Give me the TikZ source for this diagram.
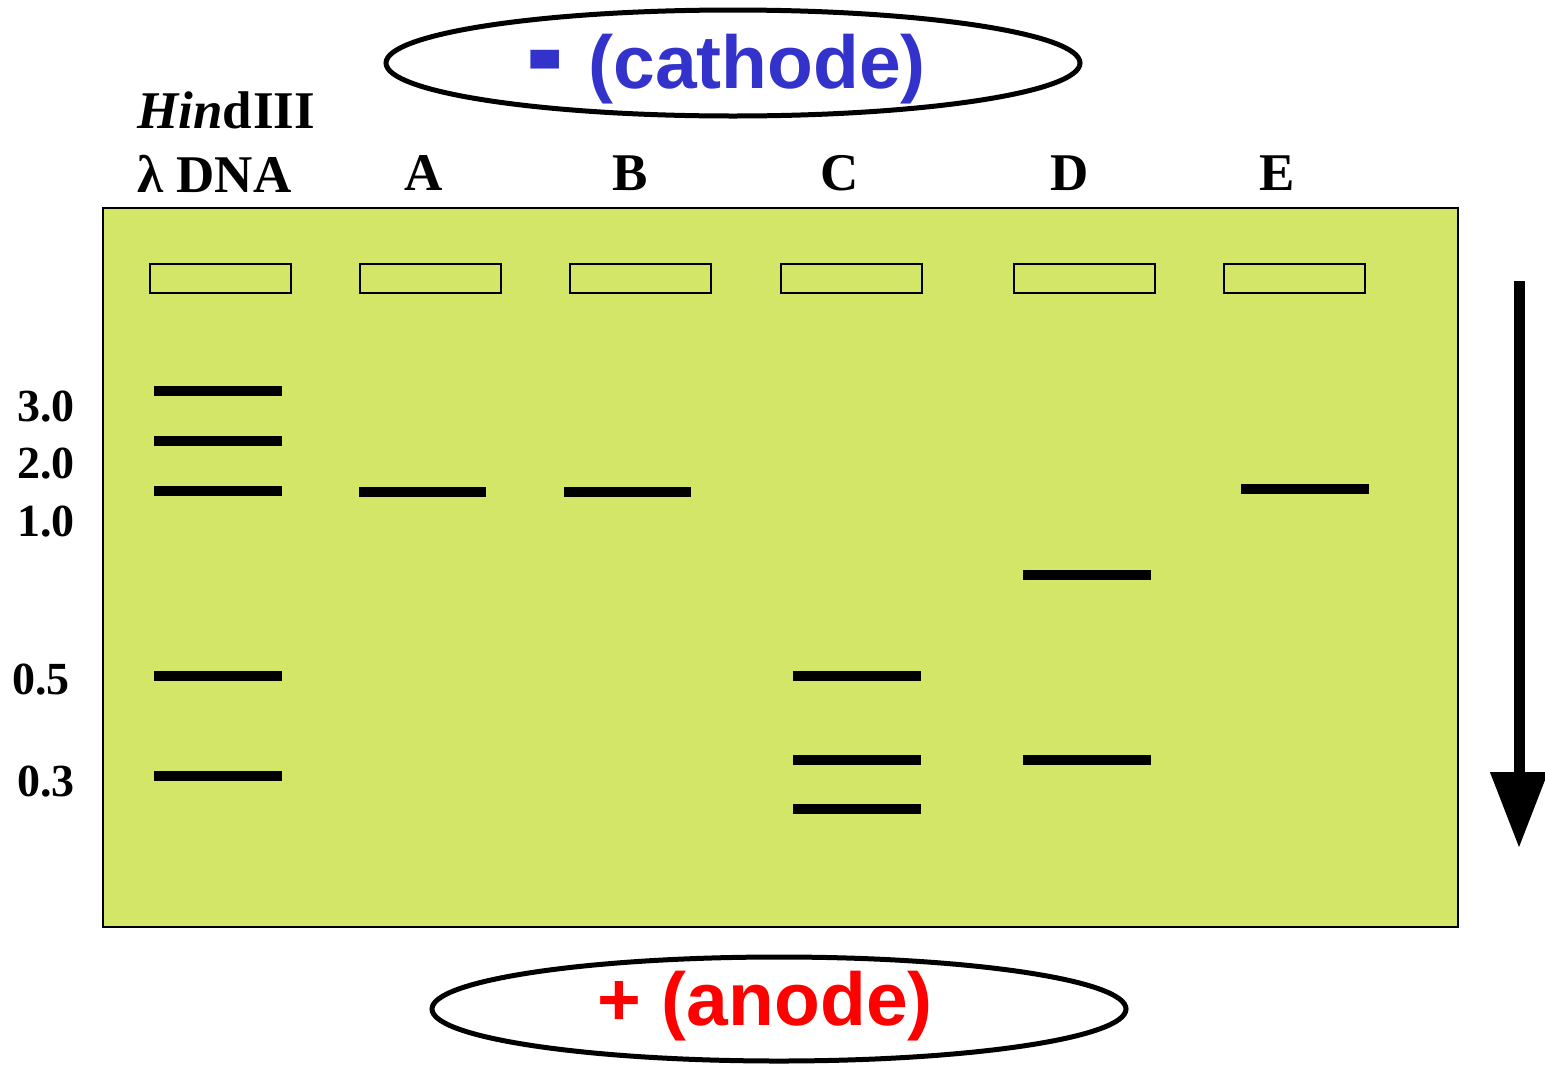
\documentclass[tikz,border=0pt]{standalone}
\usepackage{fontspec}
\setmainfont{Liberation Serif}
\newfontfamily\arialfont{Liberation Sans}
\usetikzlibrary{arrows.meta}
\definecolor{gelgreen}{RGB}{212,230,104}
\definecolor{cathblue}{RGB}{51,51,204}
\definecolor{anodered}{RGB}{255,0,0}
\tikzset{
  lanelabel/.style={anchor=base, inner sep=0pt, font=\fontsize{26.5}{30}\selectfont\bfseries},
  sizelabel/.style={anchor=base, inner sep=0pt, font=\fontsize{23}{26}\selectfont\bfseries},
  wellbox/.style={draw=black, line width=1pt, minimum width=70.5pt, minimum height=14.5pt, inner sep=0pt, anchor=north west},
  band/.style={line width=5pt},
  electrode/.style={draw=black, line width=2.5pt},
  poletext/.style={anchor=base, inner sep=0pt, font=\arialfont\fontsize{37.5}{42}\selectfont\bfseries},
}
\begin{document}
\begin{tikzpicture}[x=0.5pt, y=-0.5pt]
\useasboundingbox (0,0) rectangle (1545,1066);
% gel
\filldraw[fill=gelgreen, draw=black, line width=1pt] (103,208) rectangle (1458,927);
\node[draw=none, inner sep=0pt] (gel) at (780.5,567.5) {};
% electrodes
\draw[electrode] (733,63) ellipse [x radius=347, y radius=53];
\node[poletext, text=cathblue] (cathode) at (726,88) {\raisebox{-6pt}{\scalebox{1.5}[2.1]{-}}\kern2pt{} (cathode)};
\draw[electrode] (779,1009) ellipse [x radius=347, y radius=52];
\node[poletext, text=anodered] (anode) at (765,1025) {+ (anode)};
% lane labels
\node[lanelabel, anchor=base west] (hind) at (137,128) {\textit{Hin}d\kern0.5ptIII};
\node[lanelabel, anchor=base west] (lambda) at (137,192) {λ DNA};
\node[lanelabel] (labA) at (424,190) {A};
\node[lanelabel] (labB) at (630,190) {B};
\node[lanelabel] (labC) at (840,190) {C};
\node[lanelabel] (labD) at (1070,190) {D};
\node[lanelabel] (labE) at (1277,190) {E};
% wells
\node[wellbox] (w0) at (149,263) {};
\node[wellbox] (w1) at (359,263) {};
\node[wellbox] (w2) at (569,263) {};
\node[wellbox] (w3) at (780,263) {};
\node[wellbox] (w4) at (1013,263) {};
\node[wellbox] (w5) at (1223,263) {};
% size labels
\node[sizelabel] (s30) at (46,421) {3.0};
\node[sizelabel] (s20) at (46,478) {2.0};
\node[sizelabel] (s10) at (46,536) {1.0};
\node[sizelabel] (s05) at (41,694) {0.5};
\node[sizelabel] (s03) at (46,796) {0.3};
% bands: ladder
\draw[band] (154,391) -- (282,391);
\draw[band] (154,441) -- (282,441);
\draw[band] (154,491) -- (282,491);
\draw[band] (154,676) -- (282,676);
\draw[band] (154,776) -- (282,776);
% lane A, B
\draw[band] (359,492) -- (486,492);
\draw[band] (564,492) -- (691,492);
% lane C
\draw[band] (793,676) -- (921,676);
\draw[band] (793,760) -- (921,760);
\draw[band] (793,809) -- (921,809);
% lane D
\draw[band] (1023,575) -- (1151,575);
\draw[band] (1023,760) -- (1151,760);
% lane E
\draw[band] (1241,489) -- (1369,489);
% migration arrow
\coordinate (arrtop) at (1519,281);
\coordinate (arrtip) at (1519,848);
\draw[line width=5.5pt, -{Triangle[width=27.5pt, length=38pt]}] (arrtop) -- (arrtip);
\end{tikzpicture}
\end{document}
